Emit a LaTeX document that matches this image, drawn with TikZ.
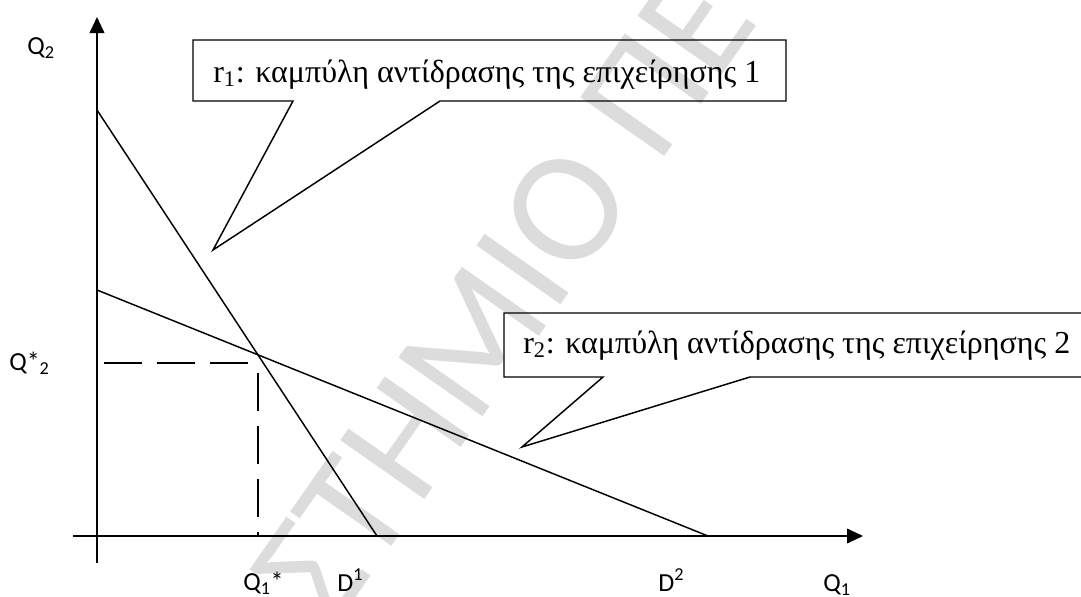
\documentclass[tikz,border=0pt]{standalone}
\usepackage{fontspec}
\setmainfont{Liberation Serif}
\newfontfamily\lblfont{Carlito}
\usetikzlibrary{arrows.meta}
\definecolor{wmgray}{RGB}{220,220,220}
\tikzset{
  axisline/.style={line width=1.4pt, -{Triangle[length=12pt,width=11pt]}},
  curveline/.style={line width=1.1pt},
  guide/.style={line width=1.1pt, dash pattern=on 28.5pt off 11.25pt},
  callout/.style={line width=1.1pt, line join=miter},
  calltext/.style={font=\fontsize{24}{28}\selectfont, inner sep=0pt, anchor=base west},
  lbl/.style={font=\lblfont\fontsize{19.5}{22}\selectfont, inner sep=0pt, anchor=base west},
  watermark/.style={text=wmgray, font=\lblfont\fontsize{120}{130}\selectfont, inner sep=0pt, rotate=55}
}
\begin{document}
\begin{tikzpicture}[x=0.75pt,y=-0.75pt]
\useasboundingbox (0,0) rectangle (1081,596);
\clip (0,0) rectangle (1081,596);
% watermark
\node[watermark] (wm) at (504,297) {ΣΤΗΜΙΟ ΠΕ};
% axes
\coordinate (ybot) at (97,563);
\coordinate (ytop) at (97,17);
\coordinate (xleft) at (73,536);
\coordinate (xright) at (863,536);
\draw[axisline] (ybot) -- (ytop);
\draw[axisline] (xleft) -- (xright);
% reaction curves
\coordinate (r1a) at (97,110);
\coordinate (D1pt) at (377,536);
\coordinate (r2a) at (97,290);
\coordinate (D2pt) at (708,536);
\draw[curveline] (r1a) -- (D1pt);
\draw[curveline] (r2a) -- (D2pt);
% equilibrium guides
\coordinate (E) at (258,363);
\coordinate (Ey) at (97,363);
\coordinate (Ex) at (258,536);
\draw[guide, dash phase=32pt] (E) -- (Ey);
\draw[guide, dash phase=32pt] (E) -- (Ex);
% callout 1
\draw[callout] (193,40) -- (786,40) -- (786,101) -- (440,101) -- (213,250) -- (293,101) -- (193,101) -- cycle;
\node[calltext] (t1) at (213,82) {r\textsubscript{1}: καμπύλη αντίδρασης της επιχείρησης 1};
% callout 2
\draw[callout] (1095,313) -- (504,313) -- (504,377) -- (603,377) -- (522,447) -- (750,377) -- (1095,377);
\node[calltext] (t2) at (523,353) {r\textsubscript{2}: καμπύλη αντίδρασης της επιχείρησης 2};
% labels
\node[lbl] (lq2) at (27,54) {Q\textsubscript{2}};
\node[lbl] (lq2s) at (9,370) {Q*\textsubscript{2}};
\node[lbl] (lq1s) at (243,590) {Q\textsubscript{1}*};
\node[lbl] (ld1) at (337,591) {D\textsuperscript{1}};
\node[lbl] (ld2) at (658,591) {D\textsuperscript{2}};
\node[lbl] (lq1) at (823,591) {Q\textsubscript{1}};
\end{tikzpicture}
\end{document}
